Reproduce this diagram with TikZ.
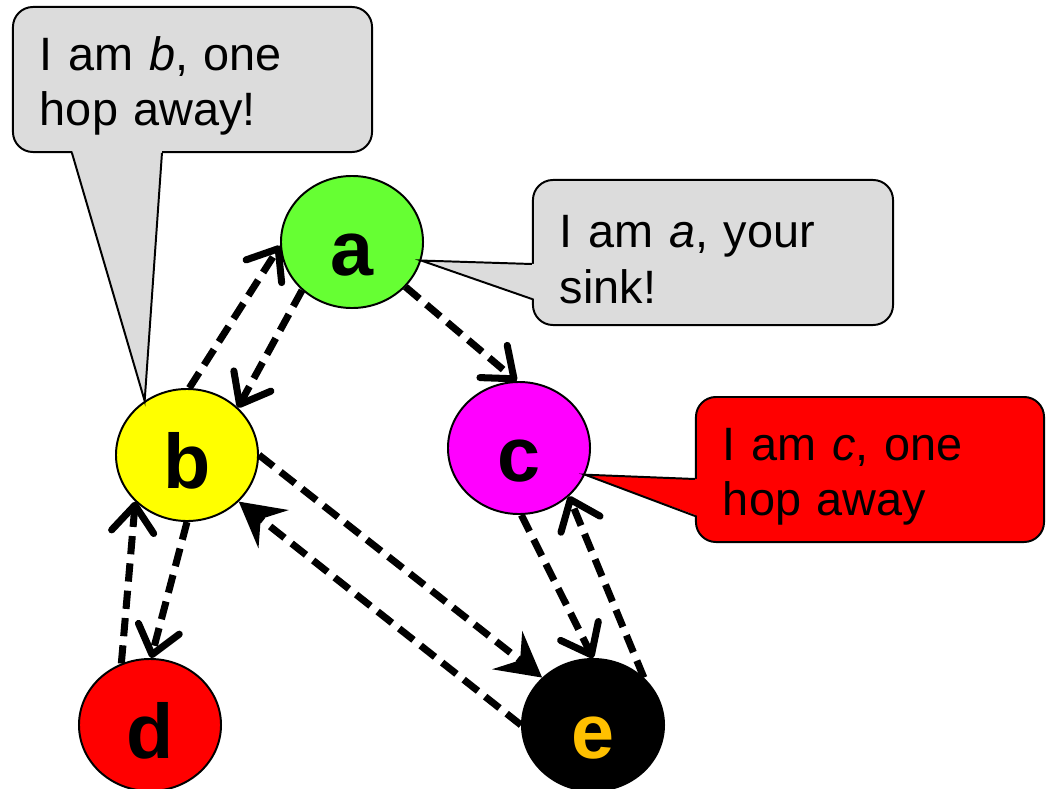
\documentclass[tikz,border=0pt]{standalone}
\usepackage{fontspec}
\setmainfont{Liberation Sans}
\usetikzlibrary{arrows.meta,shapes.geometric,calc}
\definecolor{nodegreen}{RGB}{102,255,51}
\definecolor{nodeyellow}{RGB}{255,255,0}
\definecolor{nodemagenta}{RGB}{255,0,255}
\definecolor{nodered}{RGB}{255,0,0}
\definecolor{eorange}{RGB}{255,192,0}
\definecolor{bubblegray}{RGB}{220,220,220}

\begin{document}
\begin{tikzpicture}[
  x=0.025cm, y=-0.025cm,
  station/.style = {ellipse, draw, line width=1.4pt, fill=#1,
                    minimum width=3.55cm, minimum height=3.3cm, inner sep=0pt,
                    text height=47pt, text depth=0pt,
                    font=\fontsize{55}{55}\selectfont\bfseries},
  bubble/.style  = {rectangle, rounded corners=0.5cm, draw, line width=1.4pt,
                    fill=#1, minimum height=3.625cm, inner xsep=0.675cm,
                    text height=33pt, align=left,
                    font=\fontsize{33.3}{39.5}\selectfont},
  hop/.style     = {line width=5pt, dash pattern=on 13pt off 6.5pt,
                    -{Straight Barb[length=19pt, width=30pt, round]}},
  bighop/.style  = {line width=5pt, dash pattern=on 13pt off 6.5pt,
                    -{Stealth[length=1.1cm, width=1.2cm, inset=0.4cm]}},
  tail/.style    = {line width=1.4pt},
]
\useasboundingbox (0,0) rectangle (1047,789);

% sensor nodes
\node[station=nodegreen]   (a) at (352,242) {a};
\node[station=nodeyellow]  (b) at (187,455) {b};
\node[station=nodemagenta] (c) at (519,448) {c};
\node[station=nodered]     (d) at (150,725) {d};
\node[station=black, text=eorange] (e) at (593,725) {e};

% speech bubbles
\node[bubble=bubblegray, text width=7.625cm] (sayb) at (192.5,79.5)
  {I am \textit{b}, one\\hop away!};
\node[bubble=bubblegray, text width=7.65cm]  (saya) at (713,252.5)
  {I am \textit{a}, your\\sink!};
\node[bubble=nodered, text width=7.35cm]     (sayc) at (870,469.5)
  {I am \textit{c}, one\\hop away};

% bubble tails
\fill[bubblegray] ($(sayb.south west)+(60,-3)$) -- (b.128) -- ($(sayb.south west)+(150,-3)$) -- cycle;
\draw[tail] ($(sayb.south west)+(60,0)$) -- (b.128) -- ($(sayb.south west)+(150,0)$);
\fill[bubblegray] ($(saya.north west)+(3,85)$) -- (a.345) -- ($(saya.north west)+(3,120)$) -- cycle;
\draw[tail] ($(saya.north west)+(0,85)$) -- (a.345) -- ($(saya.north west)+(0,120)$);
\fill[nodered] ($(sayc.north west)+(3,83)$) -- (c.338) -- ($(sayc.north west)+(3,120)$) -- cycle;
\draw[tail] ($(sayc.north west)+(0,83)$) -- (c.338) -- ($(sayc.north west)+(0,120)$);

% hop messages
\draw[hop] (b.88)  -- (a.183);
\draw[hop] (a.224) -- (b.43);
\draw[hop] (a.320) -- (c.92);
\draw[hop] (b.270) -- (d.89);
\draw[hop] (d.115) -- (b.222);
\draw[hop] (c.272) -- (e.90);
\draw[hop] (e.43)  -- (c.316);
\draw[bighop] (b.0)   -- (e.137);
\draw[bighop] (e.180) -- (b.318);
\end{tikzpicture}
\end{document}
